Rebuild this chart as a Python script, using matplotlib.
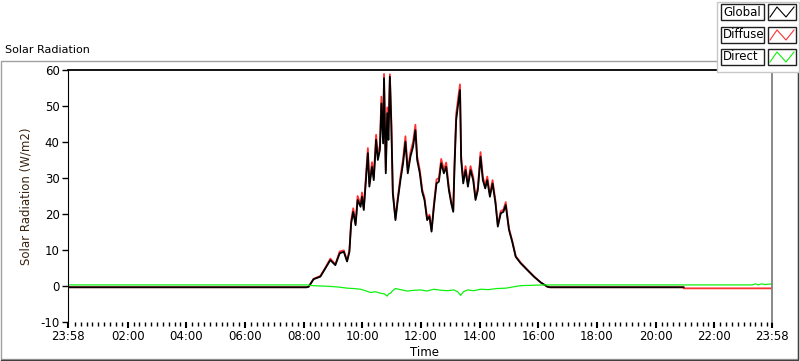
import matplotlib
matplotlib.use("Agg")
from matplotlib import pyplot as plt
from matplotlib.patches import Rectangle
from matplotlib.lines import Line2D

plt.rcParams['font.family'] = ['DejaVu Sans']
plt.rcParams['axes.unicode_minus'] = False

# time in hours of day (axis runs 23:58 -> 23:58)
global_hours = [-0.033, 8.10, 8.17, 8.34, 8.57, 8.74, 8.91, 9.08, 9.23, 9.37, 9.48, 9.56, 9.62, 9.69,
                9.77, 9.84, 9.94, 9.99, 10.05, 10.14, 10.19, 10.24, 10.33, 10.39, 10.47, 10.53, 10.60,
                10.65, 10.71, 10.74, 10.80, 10.85, 10.89, 10.94, 10.99, 11.04, 11.13, 11.21, 11.30,
                11.39, 11.47, 11.55, 11.64, 11.73, 11.81, 11.87, 11.96, 12.04, 12.12, 12.21, 12.29,
                12.36, 12.44, 12.53, 12.61, 12.69, 12.78, 12.86, 12.95, 13.03, 13.10, 13.14, 13.20,
                13.27, 13.33, 13.37, 13.44, 13.52, 13.60, 13.69, 13.78, 13.86, 13.94, 14.03, 14.11,
                14.19, 14.26, 14.35, 14.44, 14.54, 14.62, 14.72, 14.81, 14.89, 14.94, 15.00, 15.11,
                15.23, 15.40, 15.63, 15.85, 16.08, 16.31, 16.40, 20.95]
global_vals = [-0.35, -0.35, -0.2, 1.9, 2.6, 4.9, 7.2, 5.8, 9.1, 9.5, 6.8, 9.5, 17.4, 20.6,
               16.9, 23.9, 22.0, 24.8, 21.1, 31.3, 36.9, 27.6, 33.1, 29.4, 40.6, 35.0, 37.8,
               50.7, 39.6, 57.7, 31.3, 48.0, 40.6, 58.1, 44.3, 25.7, 18.3, 23.9, 29.4,
               34.1, 40.1, 31.3, 35.9, 38.7, 43.3, 35.0, 31.3, 26.2, 23.9, 18.3, 19.3,
               15.1, 22.0, 28.5, 29.0, 34.1, 31.3, 33.1, 26.7, 23.0, 20.6, 32.2, 46.1,
               50.7, 54.4, 35.0, 28.5, 32.2, 27.6, 32.2, 29.4, 23.9, 26.7, 35.9, 29.4,
               27.1, 29.4, 24.8, 28.5, 23.0, 16.5, 20.2, 20.6, 22.5, 19.3, 15.6, 12.3,
               8.1, 6.3, 4.4, 2.6, 1.0, -0.2, -0.35, -0.35]

diffuse_hours = global_hours + [20.96, 23.967]
diffuse_vals = [-0.35, -0.35, -0.2, 2.0, 2.8, 5.1, 7.6, 6.0, 9.6, 9.9, 7.0, 9.9, 18.2, 21.6,
                17.3, 25.0, 22.6, 26.0, 21.6, 32.6, 38.3, 28.4, 34.4, 30.2, 42.0, 36.0, 39.2,
                52.6, 40.8, 58.9, 32.2, 49.6, 41.8, 58.8, 45.6, 26.4, 18.8, 24.6, 30.4,
                35.3, 41.6, 32.2, 37.1, 40.0, 44.8, 36.0, 32.2, 26.9, 24.5, 18.8, 19.8,
                15.5, 22.7, 29.6, 30.0, 35.3, 32.3, 34.3, 27.4, 23.6, 21.1, 33.4, 47.8,
                52.3, 56.0, 36.1, 29.4, 33.3, 28.4, 33.3, 30.3, 24.5, 27.5, 37.2, 30.3,
                27.9, 30.4, 25.5, 29.4, 23.6, 16.9, 20.8, 21.2, 23.3, 19.8, 16.0, 12.6,
                8.3, 6.5, 4.5, 2.7, 1.0, -0.2, -0.35, -0.35, -0.65, -0.65]

direct_hours = [-0.033, 8.10, 8.30, 8.60, 8.90, 9.20, 9.48, 9.70, 9.94, 10.10, 10.28, 10.45, 10.62,
                10.75, 10.85, 10.90, 10.96, 11.05, 11.13, 11.30, 11.53, 11.75, 12.00, 12.20, 12.44,
                12.70, 12.90, 13.12, 13.25, 13.35, 13.45, 13.58, 13.80, 14.03, 14.30, 14.60, 14.90,
                15.17, 15.40, 15.80, 16.20, 23.30, 23.40, 23.50, 23.60, 23.75, 23.967]
direct_vals = [0.3, 0.3, 0.1, 0.0, -0.1, -0.3, -0.6, -0.7, -0.9, -1.3, -1.8, -1.6, -2.0,
               -2.2, -2.8, -2.2, -2.0, -1.2, -0.7, -1.0, -1.4, -1.2, -1.1, -1.4, -0.9,
               -1.2, -1.3, -1.1, -1.6, -2.6, -1.6, -1.1, -1.3, -0.9, -1.0, -0.7, -0.6,
               -0.2, 0.1, 0.2, 0.3, 0.3, 0.6, 0.3, 0.6, 0.4, 0.6]

tick_hours = [-2 / 60, 2, 4, 6, 8, 10, 12, 14, 16, 18, 20, 22, 24 - 2 / 60]
tick_labels = ['23:58', '02:00', '04:00', '06:00', '08:00', '10:00', '12:00',
               '14:00', '16:00', '18:00', '20:00', '22:00', '23:58']
series_names = ['Global', 'Diffuse', 'Direct']
series_colors = ['black', '#ff3030', '#10f010']

W, H = 800, 361
fig = plt.figure(figsize=(W / 100, H / 100), dpi=100)


def fx(x):
    return x / W


def fy(y):
    return 1 - y / H


# outer panel frame
fig.patches.append(Rectangle((fx(0.5), fy(359)), fx(797.5), (359 - 61) / H, transform=fig.transFigure,
                             facecolor='white', edgecolor='#a0a0a0', lw=1, zorder=-10))
fig.lines.append(Line2D([fx(0.5), fx(798), fx(798)], [fy(359.5), fy(359.5), fy(61)],
                        transform=fig.transFigure, color='#404040', lw=1, zorder=-9))
fig.text(fx(5), fy(50), 'Solar Radiation', fontsize=8, va='center', ha='left')

ax = fig.add_axes([fx(68), fy(322), fx(772 - 68), (322 - 70) / H])
ax.patch.set_alpha(0)
ax.plot(diffuse_hours, diffuse_vals, color=series_colors[1], lw=1.3)
ax.plot(global_hours, global_vals, color=series_colors[0], lw=1.3)
ax.plot(direct_hours, direct_vals, color=series_colors[2], lw=0.9)

ax.set_xlim(-2 / 60, 24 - 2 / 60)
ax.set_ylim(-10, 60)
ax.set_xticks(tick_hours)
ax.set_xticklabels(tick_labels)
ax.set_xticks([0.2 * k for k in range(1, 120)], minor=True)
ax.set_yticks(range(-10, 61, 10))
ax.tick_params(axis='both', which='major', direction='out', length=4, width=1.5, labelsize=8.5, pad=2)
ax.tick_params(axis='x', which='minor', direction='out', length=3, width=1)
ax.tick_params(axis='y', which='major', width=1)
ax.spines['bottom'].set_visible(False)
ax.spines['left'].set_color('black')
ax.spines['top'].set_color('black')
ax.spines['top'].set_linewidth(1.3)
ax.spines['right'].set_color('#808080')
ax.spines['right'].set_linewidth(1.3)
ax.set_ylabel('Solar Radiation (W/m2)', fontsize=8.5, color='#3a2410', labelpad=6)
fig.text(fx(425), fy(353), 'Time', fontsize=8.5, ha='center', va='center')

# legend panel
fig.patches.append(Rectangle((fx(717), fy(72)), fx(82), 70 / H, transform=fig.transFigure,
                             facecolor='white', edgecolor='#c8c8c8', lw=1, zorder=5))
rows = [(4, 20), (27, 43), (49, 65)]
for (y0, y1), name, col in zip(rows, series_names, series_colors):
    fig.patches.append(Rectangle((fx(721), fy(y1)), fx(43), (y1 - y0) / H, transform=fig.transFigure,
                                 facecolor='white', edgecolor='#202020', lw=1, zorder=6))
    fig.patches.append(Rectangle((fx(768), fy(y1)), fx(28), (y1 - y0) / H, transform=fig.transFigure,
                                 facecolor='white', edgecolor='#202020', lw=1, zorder=6))
    fig.text(fx(723), fy((y0 + y1) / 2), name, fontsize=8.5, ha='left', va='center', zorder=7)
    zx = [770, 777, 786, 794]
    zy = [y1 - 3, y0 + 3, y1 - 3, y0 + 3]
    fig.lines.append(Line2D([fx(v) for v in zx], [fy(v) for v in zy], transform=fig.transFigure,
                            color=col, lw=0.8, zorder=7))

fig.savefig('out.png', dpi=100)
